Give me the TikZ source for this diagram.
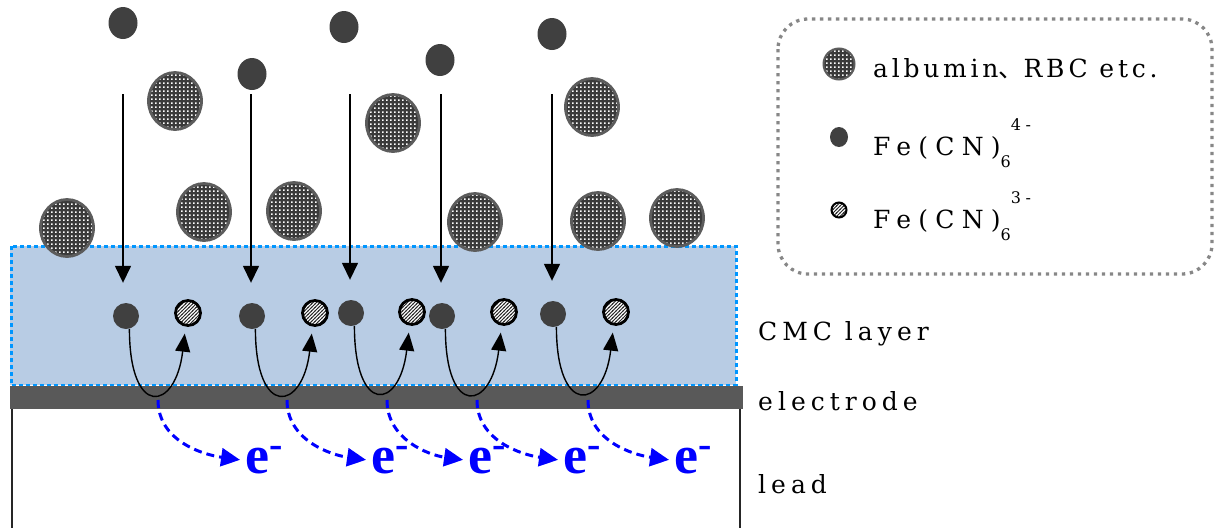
\documentclass[tikz,border=0pt]{standalone}
\usepackage{fontspec}
\setmainfont{Liberation Serif}
\newfontfamily\labelfont{DejaVu Serif}
\newfontfamily\cjk{Noto Sans CJK JP}
\usetikzlibrary{positioning}
\usetikzlibrary{arrows.meta}
\usetikzlibrary{shapes.geometric}
\usetikzlibrary{patterns}
\definecolor{layerblue}{RGB}{184,204,228}
\definecolor{edgeblue}{RGB}{0,150,255}
\definecolor{electrodegray}{RGB}{89,89,89}
\definecolor{dotgray}{RGB}{64,64,64}
\definecolor{albuminfill}{RGB}{58,58,58}
\definecolor{albuminedge}{RGB}{92,92,92}
\definecolor{legendgray}{RGB}{135,135,135}
\definecolor{eblue}{RGB}{0,0,255}

\pgfdeclarepatternformonly{albudots}{\pgfpointorigin}{\pgfpoint{4.3pt}{4.3pt}}{\pgfpoint{4.3pt}{4.3pt}}{%
  \pgfpathrectangle{\pgfpoint{1.2pt}{1.2pt}}{\pgfpoint{1.9pt}{1.9pt}}\pgfusepath{fill}}
\pgfdeclarepatternformonly{hatchlines}{\pgfpoint{-1pt}{-1pt}}{\pgfpoint{4.5pt}{4.5pt}}{\pgfpoint{3.5pt}{3.5pt}}{%
  \pgfsetlinewidth{0.9pt}\pgfpathmoveto{\pgfpoint{-0.5pt}{-0.5pt}}\pgfpathlineto{\pgfpoint{4pt}{4pt}}\pgfusepath{stroke}}

\newcommand{\chemsub}[1]{\raisebox{-12pt}{\fontsize{16}{16}\selectfont #1}}
\newcommand{\chemsup}[1]{\raisebox{25pt}{\fontsize{16}{16}\selectfont #1}}
\newcommand{\eminus}{e\smash{\rlap{\raisebox{16pt}{\fontsize{40}{40}\selectfont -}}}}

\begin{document}
\begin{tikzpicture}[x=1pt, y=1pt,
    albumin/.style={ellipse, draw=albuminedge, line width=2.8pt, preaction={fill=albuminfill}, pattern=albudots, pattern color=white, minimum width=53pt, minimum height=57pt, inner sep=0pt},
    ferro/.style={ellipse, fill=dotgray, minimum width=29pt, minimum height=32pt, inner sep=0pt},
    ferrolayer/.style={circle, fill=dotgray, minimum size=26pt, inner sep=0pt},
    ferri/.style={circle, draw=black, line width=2.8pt, preaction={fill=white}, pattern=hatchlines, pattern color=black!85, minimum size=25pt, inner sep=0pt},
    fallarrow/.style={-{Triangle[length=17pt, width=16pt]}, line width=1.5pt, shorten >=20pt},
    turnarrow/.style={-{Triangle[length=18pt, width=15pt]}, line width=1.4pt, shorten >=7pt},
    edash/.style={-{Triangle[length=19pt, width=18pt]}, eblue, line width=3pt, dash pattern=on 8pt off 5pt, shorten >=5pt},
    electron/.style={text=eblue, font=\fontsize{54}{54}\selectfont\bfseries, inner sep=0pt, anchor=base west},
    sidelabel/.style={font=\labelfont\fontsize{25}{30}\selectfont\addfontfeature{LetterSpace=20}, inner sep=0pt, anchor=base west},
    legendtext/.style={font=\labelfont\fontsize{25}{30}\selectfont\addfontfeature{LetterSpace=15}, inner sep=0pt, anchor=base west},
    chemtext/.style={font=\labelfont\fontsize{25}{30}\selectfont\addfontfeature{LetterSpace=29}, inner sep=0pt, anchor=base west}]
    \useasboundingbox (0,0) rectangle (1215,-528);

    % layer, electrode, lead
    \fill[layerblue] (10,-246) rectangle (736,-385);
    \draw[edgeblue, line width=3pt, dash pattern=on 4pt off 3pt] (11,-246) rectangle (736,-385);
    \fill[electrodegray] (10,-386) rectangle (743,-409);
    \draw[line width=2pt, black!85] (12,-409) -- (12,-528) (740,-409) -- (740,-528);

    % albumin, RBC
    \node[albumin] (alb1) at (67,-228) {};
    \node[albumin] (alb2) at (175,-101) {};
    \node[albumin] (alb3) at (204,-212) {};
    \node[albumin] (alb4) at (294,-211) {};
    \node[albumin] (alb5) at (393,-123) {};
    \node[albumin] (alb6) at (475,-222) {};
    \node[albumin] (alb7) at (592,-107) {};
    \node[albumin] (alb8) at (598,-221) {};
    \node[albumin] (alb9) at (677,-218) {};

    % Fe(CN)6 4- in solution
    \node[ferro] (top1) at (123,-23) {};
    \node[ferro] (top2) at (252,-74) {};
    \node[ferro] (top3) at (344,-27) {};
    \node[ferro] (top4) at (440,-60) {};
    \node[ferro] (top5) at (552,-34) {};

    % in the CMC layer
    \node[ferrolayer] (d1) at (126,-316) {};
    \node[ferrolayer] (d2) at (252,-316) {};
    \node[ferrolayer] (d3) at (351,-313) {};
    \node[ferrolayer] (d4) at (442,-316) {};
    \node[ferrolayer] (d5) at (553,-314) {};
    \node[ferri] (h1) at (188,-313) {};
    \node[ferri] (h2) at (315,-313) {};
    \node[ferri] (h3) at (412,-312) {};
    \node[ferri] (h4) at (504,-312) {};
    \node[ferri] (h5) at (616,-312) {};

    \coordinate (in1) at (123,-94);
    \coordinate (in2) at (251,-94);
    \coordinate (in3) at (350,-94);
    \coordinate (in4) at (441,-94);
    \coordinate (in5) at (552,-94);
    \draw[fallarrow] (in1) -- (in1 |- d1.north);
    \draw[fallarrow] (in2) -- (in2 |- d2.north);
    \draw[fallarrow] (in3) -- (in3 |- d3.north);
    \draw[fallarrow] (in4) -- (in4 |- d4.north);
    \draw[fallarrow] (in5) -- (in5 |- d5.north);

    \draw[turnarrow] (d1.-75) .. controls +(0,-90) and +(-10,-85) .. (h1.-100);
    \draw[turnarrow] (d2.-75) .. controls +(0,-90) and +(-10,-85) .. (h2.-100);
    \draw[turnarrow] (d3.-75) .. controls +(0,-90) and +(-10,-85) .. (h3.-100);
    \draw[turnarrow] (d4.-75) .. controls +(0,-90) and +(-10,-85) .. (h4.-100);
    \draw[turnarrow] (d5.-75) .. controls +(0,-90) and +(-10,-85) .. (h5.-100);

    % electrons
    \node[electron] (e1) at (245,-473) {\eminus};
    \node[electron] (e2) at (371,-473) {\eminus};
    \node[electron] (e3) at (468,-473) {\eminus};
    \node[electron] (e4) at (563,-473) {\eminus};
    \node[electron] (e5) at (674,-473) {\eminus};
    \coordinate (b1) at (158,-400);
    \coordinate (b2) at (287,-400);
    \coordinate (b3) at (387,-400);
    \coordinate (b4) at (477,-400);
    \coordinate (b5) at (588,-400);
    \draw[edash] (b1) to[out=-90, in=172] (e1.west);
    \draw[edash] (b2) to[out=-90, in=172] (e2.west);
    \draw[edash] (b3) to[out=-90, in=172] (e3.west);
    \draw[edash] (b4) to[out=-90, in=172] (e4.west);
    \draw[edash] (b5) to[out=-90, in=172] (e5.west);

    % labels on the right
    \node[sidelabel] (cmc) at (758,-340) {CMC layer};
    \node[sidelabel] (electrode) at (758,-410) {electrode};
    \node[sidelabel] (lead) at (758,-493) {lead};

    % legend
    \draw[legendgray, line width=3.3pt, dash pattern=on 3.3pt off 4.7pt, rounded corners=30pt] (778,-19) rectangle (1212,-274);
    \node[albumin, minimum width=31pt, minimum height=31pt, line width=2pt] (legalb) at (839,-64) {};
    \node[ferro, minimum width=18pt, minimum height=20pt] (legferro) at (839,-137) {};
    \node[ferri, minimum size=15pt, line width=2pt] (legferri) at (839,-210) {};
    \node[legendtext] (txtalb) at (873,-77) {albumin{\cjk 、}RBC etc.};
    \node[chemtext] (txtferro) at (873,-155) {Fe(CN)\chemsub{6}\chemsup{4-}};
    \node[chemtext] (txtferri) at (873,-228) {Fe(CN)\chemsub{6}\chemsup{3-}};
\end{tikzpicture}
\end{document}
